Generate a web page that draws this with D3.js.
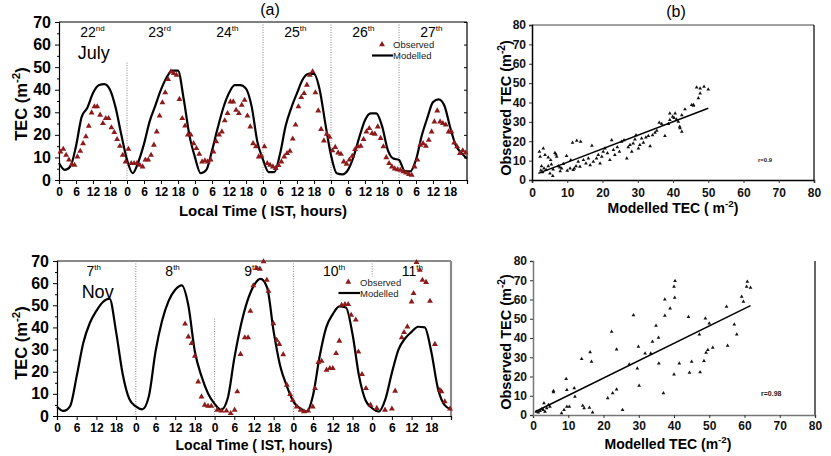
<!DOCTYPE html>
<html>
<head>
<meta charset="utf-8">
<script src="https://cdn.jsdelivr.net/npm/d3@7"></script>
<style>
  body { margin: 0; background: #fff; }
  text { font-family: Arial, "Liberation Sans", sans-serif; }
</style>
</head>
<body>
<div id="chart"></div>
<script>
// ---- data ----
const julyDays = ["22", "23", "24", "25", "26", "27"];
const julySuffix = ["nd", "rd", "th", "th", "th", "th"];
const novDays = ["7", "8", "9", "10", "11"];
const novSuffix = ["th", "th", "th", "th", "th"];
const hourTicks = [0, 6, 12, 18];
const tecTicks = [0, 10, 20, 30, 40, 50, 60, 70];
const scatterTicks = [0, 10, 20, 30, 40, 50, 60, 70, 80];

// modelled TEC every 2 hours, 22-27 July (h = 0..144)
const modJuly = [7.5, 4.5, 6, 15, 28, 32, 38.5, 42, 42.5, 40, 32, 20, 9,
    3, 8, 16, 26, 33, 40, 45.5, 48.5, 48.5, 36, 20, 10,
    3, 4.5, 13, 23, 32, 38.5, 42, 42, 40.5, 32.5, 17, 9,
    3.5, 3.5, 11.5, 24, 32, 38.5, 44.5, 47, 47, 40, 25, 11,
    3, 2.5, 4.5, 10.5, 19, 26.5, 29.5, 29.5, 24, 13.5, 9.5, 8.9,
    4, 3.8, 9, 19.5, 27.5, 34.5, 35.7, 33, 23.6, 15.5, 12, 9.5];
// observed TEC hourly, 22-27 July
const obsJuly = [12.5, 13.7, 11, 8.9, 7, 6.6, 10.3, 12.8, 16.2, 19.2, 23.9, 29.8, 32.5, 32.5, 28.8, 25.1, 27.3, 27.3, 23.2, 21.1, 18, 15, 11, 8.1,
    13.7, 7.4, 7.4, 7.4, 6.6, 5.9, 8.9, 8.9, 11, 15.5, 21.4, 28.4, 34.3, 38.7, 44.6, 48, 47.3, 46.5, 35.8, 27.3, 24, 20, 20, 16.2,
    14, 11.5, 8.1, 8.6, 8.1, 9, 12.5, 17, 20, 21.4, 26.3, 29.5, 34.7, 34.7, 31, 29.5, 33.2, 35.4, 28.4, 23.6, 16.2, 14.8, 10.3, 10.6,
    14.8, 7.4, 6.6, 5.9, 5.2, 6.5, 8.1, 10.3, 11.8, 12.8, 18.2, 24.4, 32.5, 36.6, 38.4, 42.1, 46.5, 48, 38.7, 30.7, 22.5, 17.4, 20.4, 19,
    13, 14.5, 12.1, 11.5, 8.1, 7.1, 8.9, 10.6, 13.6, 14.8, 15, 18, 21.4, 22.9, 20.7, 20.4, 23.6, 18.5, 14.8, 10, 7.4, 5.9, 5, 4.6,
    4.4, 3.7, 3.2, 2.5, 2.2, 5.9, 8.9, 15.5, 16.2, 15, 17.7, 21.4, 25.8, 30.7, 25.8, 25.1, 24.4, 21.4, 21.4, 16.5, 14.8, 11.8, 13, 12];

// modelled TEC every 2 hours, 7-11 Nov (h = 0..120)
const modNov = [4.2, 2.3, 4.5, 18, 33, 42, 47.5, 51.5, 53, 38, 19, 7.8, 4.3,
    3, 9, 29, 43, 52, 57, 59, 50, 29, 18, 10.2, 5.5,
    2.8, 8, 26, 41, 52, 59, 61.9, 58, 38, 22.5, 13.5, 6.5,
    3.5, 2, 9.5, 27, 40, 46, 49.5, 49, 37, 18, 7, 3.5,
    2, 7.5, 19.5, 30, 35, 38, 40.3, 40, 29, 12.5, 5, 3];
// observed TEC, 7-11 Nov [hour, TEC]
const obsNov = [[39, 41.6], [40, 35.8], [41, 32.8], [42, 27.1], [43, 15.5], [44, 8.7], [45, 5], [46, 4.5], [47, 4.5],
    [48.8, 2.7], [50.1, 2.3], [51.6, 2.3], [52.9, 1.2], [54.1, 2.7], [54.9, 11], [55.9, 27.9], [57.2, 35.4], [58.2, 35.4],
    [58.9, 47.4], [59.8, 58.9], [60.8, 66.7], [61.8, 66.4], [62.9, 69.7], [63.9, 61.4], [64.4, 56.4], [65.9, 41.8],
    [66.9, 34.3], [67.7, 32.4], [68.9, 27.8], [70, 14], [71, 9.8], [71.8, 7.2], [73, 4.2], [74.2, 2.7], [75.2, 2],
    [76.5, 2.3], [77.9, 4.2], [78.6, 12.5], [79.6, 24.2], [80.6, 24.8], [82.1, 20.8], [83.1, 21.5], [84, 21.5],
    [85, 28.3], [86, 33.9], [86.7, 50.1], [87.7, 50.4], [88.7, 50.4], [89.6, 45.6], [91, 43.4], [91.8, 29], [92.9, 18.8],
    [94.1, 12.5], [95.5, 5], [97.4, 3.5], [99.9, 2.7], [102, 3.2], [103, 11.3], [105, 35.4], [105.7, 37.8], [106.7, 40.3],
    [108, 51.6], [108.6, 55.4], [109.5, 69.4], [110.5, 65.9], [111.3, 61.4], [112.4, 60.4], [113.6, 51.9], [115.1, 32.4],
    [116.6, 11.7], [117.1, 11], [118.1, 6.5], [119.7, 3.2]];

// scatter: [modelled, observed]
const scatJuly = [[2.1, 14.6], [3.2, 16.3], [2.3, 12], [3.7, 12.9], [2.7, 7.2], [3.4, 6], [4, 5.2], [4.6, 7.2], [5.1, 3.4],
    [5.9, 2.1], [4.6, 11.7], [5.3, 10.3], [6.5, 14], [6.8, 13.2], [7, 12], [7.5, 7.2], [7.9, 6.5], [8.4, 6], [8.9, 8.3],
    [9.8, 12.4], [10.8, 6], [11, 10.3], [11.5, 19.3], [12.7, 20.3], [13.8, 19.8], [11.7, 5.2], [12.5, 7.2], [13.1, 9.5],
    [13.6, 6.9], [14.6, 10.3], [15.3, 8.6], [16, 11.2], [16.5, 7.7], [17, 17.7], [17.4, 9.5], [18.3, 11.2], [18.8, 12.9],
    [19.3, 8.6], [19.8, 12], [20.2, 14.6], [20.7, 16.3], [21.4, 13.8], [22.1, 10.3], [22.6, 20.6], [23.1, 15.5],
    [23.5, 12.9], [24.2, 16.9], [24.8, 14.6], [25.4, 19.8], [26.1, 20.6], [26.9, 11.2], [27.3, 16.9], [27.8, 18.1],
    [28.3, 14.6], [28.7, 18.9], [29.2, 21], [29.5, 23.2], [30.2, 16.3], [30.6, 18.1], [31.1, 21.5], [31.6, 19.3],
    [32.3, 22], [33, 22.7], [33.5, 17.5], [34.2, 23.2], [34.9, 24.4], [35.4, 25.5], [36.1, 29.6], [36.8, 28.9],
    [37.7, 22.7], [38.7, 28.9], [39.1, 34.4], [39.9, 32.7], [40.6, 34.4], [41, 31.3], [41.5, 30.1], [42, 26.7],
    [42.5, 24.9], [39.1, 31], [40.3, 32], [43.4, 36.5], [45.3, 38.7], [45.8, 38.4], [46.7, 47.8], [47.7, 47.3],
    [48.8, 48.2], [50, 46.8], [47.2, 42.2], [47.7, 44.7], [45.8, 38.7], [42.5, 33.5], [41.9, 27.5], [3, 4], [6, 5.5],
    [8, 4.5], [10, 4.8], [12, 6], [2.5, 5], [5.5, 8]];
const scatNov = [[1, 1.7], [2, 2.1], [2.9, 2.6], [3.4, 1.7], [3.9, 3.5], [4.4, 5.2], [4.8, 4.3], [1.5, 1.4], [2.5, 3.1],
    [3.1, 6.1], [5.8, 11.8], [5.8, 12.5], [8.1, 0.9], [8.8, 2.6], [9.6, 4.3], [10.3, 4.3], [9.4, 18.7], [9.6, 13],
    [11.7, 13.9], [11.9, 9.5], [13.8, 29.1], [14.1, 4.8], [14.5, 3.5], [16.2, 32.6], [16.6, 27.7], [16, 3.8],
    [16.9, 1.4], [21.2, 8.7], [22.3, 43.3], [22.6, 11.3], [23.7, 13.3], [23.7, 34.1], [25.4, 2.6], [27.3, 26.3],
    [28.5, 51.9], [29.6, 24.2], [29.9, 35.5], [30.1, 15.2], [31.8, 32], [33.4, 32], [34.9, 46.4], [35.6, 40.2],
    [35.7, 26.8], [33.9, 38.1], [37, 11.3], [37.4, 51.6], [37.4, 60.1], [38.9, 55.4], [40, 66.7], [40.3, 69.6],
    [40.2, 61], [40, 21.1], [41.5, 26.8], [44.1, 50.9], [44.4, 22], [45, 27.7], [47.2, 41.9], [47.4, 22.2],
    [48.5, 28.1], [48.9, 50.2], [49.1, 32.4], [49.6, 33.8], [50, 47.6], [51, 35], [54.9, 56.3], [55.2, 36],
    [57.1, 47.1], [57.8, 41.9], [59.2, 61.5], [59.7, 58.9], [60.8, 69.3], [60.6, 66.7], [61.7, 66.1]];
const fitJuly = [[1.8, 3.4], [50, 37]];
const fitNov = [[0.6, 1.7], [61.7, 56.8]];

// ---- drawing ----
const svg = d3.select("#chart").append("svg")
    .attr("width", 831).attr("height", 456)
    .style("background", "#fff");

const obsColor = "#8e1b1b";
const tri = d3.symbol().type(d3.symbolTriangle);

// "text (m" + superscript "-2" + ")"
function superText(g, x, y, base, sup, size, anchor) {
    let t = g.append("text").attr("x", x).attr("y", y)
        .attr("font-size", size).attr("font-weight", "bold")
        .attr("text-anchor", anchor || "middle");
    t.append("tspan").text(base);
    t.append("tspan").attr("dy", -size * 0.4).attr("font-size", size * 0.7).text(sup);
    t.append("tspan").attr("dy", size * 0.4).text(")");
    return t;
}

function timePanel(o) {
    let g = svg.append("g");
    let x = d3.scaleLinear().domain([0, o.days.length * 24]).range([o.left, o.right]);
    let y = d3.scaleLinear().domain([0, 70]).range([o.bottom, o.top]);

    // frame on top and right
    g.append("line").attr("x1", o.left).attr("x2", o.right).attr("y1", o.top).attr("y2", o.top)
        .attr("stroke", o.frameColor).attr("stroke-width", o.frameWidth);
    g.append("line").attr("x1", o.right).attr("x2", o.right).attr("y1", o.top).attr("y2", o.bottom)
        .attr("stroke", o.frameColor).attr("stroke-width", o.frameWidth);

    // day separators
    o.separators.forEach(s => {
        g.append("line").attr("x1", x(s[0])).attr("x2", x(s[0]))
            .attr("y1", y(s[1])).attr("y2", y(s[2]))
            .attr("stroke", "#888").attr("stroke-width", 1)
            .attr("stroke-dasharray", "1,1.5");
    });

    // x axis
    let xt = [];
    o.days.forEach((d, i) => hourTicks.forEach(t => xt.push(i * 24 + t)));
    let xa = g.append("g").attr("transform", `translate(0,${o.bottom})`)
        .call(d3.axisBottom(x).tickValues(xt).tickFormat(d => d % 24).tickSize(4).tickPadding(3.5));
    xa.selectAll("text").attr("font-size", 12).attr("font-weight", "bold")
        .attr("font-family", "Arial, 'Liberation Sans', sans-serif").attr("fill", "#000");
    xa.select(".domain").attr("stroke", "#000").attr("stroke-width", 1.2);

    // y axis with minor ticks
    let ya = g.append("g").attr("transform", `translate(${o.left},0)`)
        .call(d3.axisLeft(y).tickValues(tecTicks).tickSize(4).tickPadding(4));
    ya.selectAll("text").attr("font-size", 16).attr("font-weight", "bold")
        .attr("font-family", "Arial, 'Liberation Sans', sans-serif").attr("fill", "#000");
    ya.select(".domain").attr("stroke", "#000").attr("stroke-width", 1.2);
    g.append("g").attr("transform", `translate(${o.left},0)`)
        .call(d3.axisLeft(y).tickValues(d3.range(5, 70, 10)).tickSize(2).tickFormat(""))
        .select(".domain").remove();
    if (o.rightTicks) {
        g.append("g").attr("transform", `translate(${o.right},0)`)
            .call(d3.axisLeft(y).tickValues(tecTicks).tickSize(3).tickFormat(""))
            .select(".domain").remove();
    }

    // day labels
    o.days.forEach((d, i) => {
        let t = g.append("text").attr("x", x(i * 24 + o.labelOffset)).attr("y", o.top + 15)
            .attr("font-size", 14);
        t.append("tspan").text(d);
        t.append("tspan").attr("dy", -6).attr("font-size", 8).text(o.suffix[i]);
    });
    g.append("text").attr("x", x(o.monthAt)).attr("y", o.top + 37)
        .attr("font-size", 18).text(o.month);

    // modelled line
    let line = d3.line().x((d, i) => x(i * 2)).y(d => y(d)).curve(d3.curveMonotoneX);
    g.append("path").datum(o.model).attr("d", line)
        .attr("fill", "none").attr("stroke", "#000").attr("stroke-width", 2.2);

    // observed triangles
    g.selectAll(".obs").data(o.obs).enter().append("path")
        .attr("d", tri.size(15))
        .attr("transform", d => `translate(${x(d[0])},${y(d[1])})`)
        .attr("fill", obsColor);

    // legend
    let L = o.legend;
    g.append("path").attr("d", tri.size(15))
        .attr("transform", `translate(${L.tx},${L.ty})`).attr("fill", obsColor);
    g.append("text").attr("x", L.textX).attr("y", L.ty + 3.5).attr("font-size", 9.5)
        .attr("fill", "#222").text("Observed");
    g.append("line").attr("x1", L.lx1).attr("x2", L.textX).attr("y1", L.ly).attr("y2", L.ly)
        .attr("stroke", "#000").attr("stroke-width", 2.2);
    g.append("text").attr("x", L.textX).attr("y", L.ly + 3.5).attr("font-size", 9.5)
        .attr("fill", "#222").text("Modelled");

    // titles
    g.append("text").attr("x", o.xTitleX).attr("y", o.xTitleY).attr("text-anchor", "middle")
        .attr("font-size", o.xTitleSize).attr("font-weight", "bold").text("Local Time ( IST, hours)");
    let yt = g.append("g").attr("transform", `translate(27,${o.yTitleY}) rotate(-90)`);
    superText(yt, 0, 0, "TEC (m", "-2", 16.5);
}

function scatterPanel(o) {
    let g = svg.append("g");
    let x = d3.scaleLinear().domain([0, 80]).range([o.left, o.right]);
    let y = d3.scaleLinear().domain([0, 80]).range([o.bottom, o.top]);

    if (o.topFrame) {
        g.append("line").attr("x1", o.left).attr("x2", o.right).attr("y1", o.top).attr("y2", o.top)
            .attr("stroke", "#444").attr("stroke-width", 1);
    }
    g.append("line").attr("x1", o.right).attr("x2", o.right).attr("y1", o.top).attr("y2", o.bottom)
        .attr("stroke", "#000").attr("stroke-width", 1.2);

    let xa = g.append("g").attr("transform", `translate(0,${o.bottom})`)
        .call(d3.axisBottom(x).tickValues(scatterTicks).tickSize(3).tickPadding(o.xPad));
    let ya = g.append("g").attr("transform", `translate(${o.left},0)`)
        .call(d3.axisLeft(y).tickValues(scatterTicks).tickSize(3).tickPadding(3));
    [xa, ya].forEach(a => {
        a.selectAll("text").attr("font-size", 12).attr("font-weight", "bold")
            .attr("font-family", "Arial, 'Liberation Sans', sans-serif").attr("fill", "#111");
        a.select(".domain").attr("stroke", o.axisColor).attr("stroke-width", 1.5);
        a.selectAll(".tick line").attr("stroke", "#333");
    });

    g.selectAll(".pt").data(o.points).enter().append("path")
        .attr("d", tri.size(6))
        .attr("transform", d => `translate(${x(d[0])},${y(d[1])})`)
        .attr("fill", "#111");

    g.append("line")
        .attr("x1", x(o.fit[0][0])).attr("y1", y(o.fit[0][1]))
        .attr("x2", x(o.fit[1][0])).attr("y2", y(o.fit[1][1]))
        .attr("stroke", "#000").attr("stroke-width", 1.5);

    g.append("text").attr("x", o.rX).attr("y", o.rY).attr("font-size", o.rSize)
        .attr("font-weight", "bold").attr("fill", "#222").text(o.rText);

    let xt = g.append("g").attr("transform", `translate(${o.xTitleX},${o.xTitleY})`);
    superText(xt, 0, 0, o.xTitle, "-2", 14);
    let yt = g.append("g").attr("transform", `translate(511,${o.yTitleY}) rotate(-90)`);
    superText(yt, 0, 0, "Observed TEC (m", "-2", 14.5);
}

timePanel({
    days: julyDays, suffix: julySuffix, month: "July", monthAt: 6.6,
    left: 59, right: 467, top: 22, bottom: 180,
    frameColor: "#000", frameWidth: 1.2, rightTicks: true,
    separators: [[24, 52, 0], [72, 70, 0], [96, 70, 0], [120, 70, 0]],
    labelOffset: 7.5,
    model: modJuly, obs: obsJuly.map((v, i) => [i + 0.5, v]),
    legend: { tx: 382, ty: 44.5, textX: 393, lx1: 372, ly: 55.5 },
    xTitleX: 263, xTitleY: 216, xTitleSize: 15, yTitleY: 104
});

timePanel({
    days: novDays, suffix: novSuffix, month: "Nov", monthAt: 7.5,
    left: 57, right: 451, top: 261, bottom: 416,
    frameColor: "#8a8a8a", frameWidth: 2.2, rightTicks: false,
    separators: [[24, 70, 0], [48, 44, 0], [72, 70, 0], [96, 70, 63]],
    labelOffset: 9,
    model: modNov, obs: obsNov,
    legend: { tx: 348.3, ty: 282, textX: 360, lx1: 338.5, ly: 293 },
    xTitleX: 254, xTitleY: 450, xTitleSize: 14, yTitleY: 343
});

scatterPanel({
    left: 532, right: 814, top: 25, bottom: 180, topFrame: true, axisColor: "#000", xPad: 5,
    points: scatJuly, fit: fitJuly, rText: "r=0.9", rX: 758, rY: 162, rSize: 6,
    xTitle: "Modelled TEC ( m", xTitleX: 673, xTitleY: 213, yTitleY: 108
});

scatterPanel({
    left: 533, right: 815, top: 261, bottom: 415, topFrame: false, axisColor: "#777", xPad: 3.5,
    points: scatNov, fit: fitNov, rText: "r=0.98", rX: 761, rY: 396, rSize: 7,
    xTitle: "Modelled TEC (m", xTitleX: 668, xTitleY: 449, yTitleY: 342
});

svg.append("text").attr("x", 270).attr("y", 15).attr("text-anchor", "middle")
    .attr("font-size", 16).text("(a)");
svg.append("text").attr("x", 676).attr("y", 17).attr("text-anchor", "middle")
    .attr("font-size", 16).text("(b)");
</script>
</body>
</html>
